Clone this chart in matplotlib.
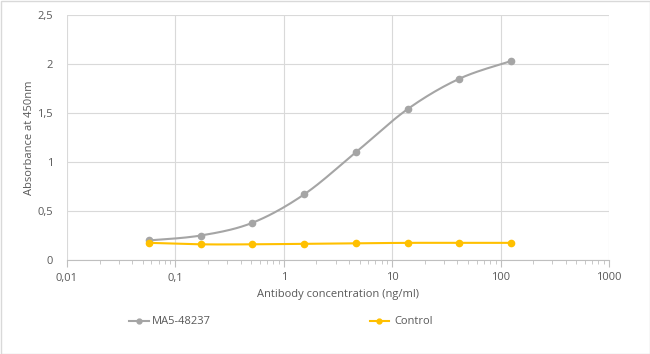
import numpy as np
import matplotlib
matplotlib.use("Agg")
import matplotlib.pyplot as plt
from matplotlib.ticker import FixedLocator, LogLocator, NullFormatter
from matplotlib.patches import Rectangle
from matplotlib.lines import Line2D

conc = [0.0572, 0.1715, 0.514, 1.543, 4.63, 13.89, 41.67, 125.0]
ma5 = [0.20, 0.25, 0.38, 0.67, 1.10, 1.54, 1.85, 2.03]
control = [0.175, 0.16, 0.16, 0.165, 0.17, 0.175, 0.175, 0.175]
xticks = [0.01, 0.1, 1, 10, 100, 1000]
xticklabels = ["0,01", "0,1", "1", "10", "100", "1000"]
yticks = [0, 0.5, 1, 1.5, 2, 2.5]
yticklabels = ["0", "0,5", "1", "1,5", "2", "2,5"]

plt.rcParams['font.family'] = ['Open Sans', 'DejaVu Sans']

def smooth(x, y, n=20):
    lx = np.log10(np.asarray(x, float)); y = np.asarray(y, float)
    P = np.column_stack([lx, y])
    P = np.vstack([P[0], P, P[-1]])
    out = []
    t = np.linspace(0, 1, n)
    for i in range(1, len(P) - 2):
        p0, p1, p2, p3 = P[i-1], P[i], P[i+1], P[i+2]
        for tt in t:
            t2, t3 = tt*tt, tt*tt*tt
            pt = 0.5*((2*p1) + (-p0+p2)*tt + (2*p0-5*p1+4*p2-p3)*t2 + (-p0+3*p1-3*p2+p3)*t3)
            out.append(pt)
    out = np.array(out)
    return 10**out[:, 0], out[:, 1]

fig = plt.figure(figsize=(6.5, 3.54), dpi=100)
ax = fig.add_axes([67/650, 1-260/354, (609-67)/650, (260-15)/354])
ax.set_xscale('log')
ax.set_xlim(0.01, 1000)
ax.set_ylim(0, 2.5)

gray = '#a5a5a5'
gold = '#ffc000'
sx, sy = smooth(conc, ma5)
ax.plot(sx, sy, color=gray, lw=1.5, zorder=3)
ax.plot(conc, ma5, 'o', color=gray, ms=4.5, zorder=4)
cx, cy = smooth(conc, control)
ax.plot(cx, cy, color=gold, lw=1.5, zorder=3)
ax.plot(conc, control, 'o', color=gold, ms=4.5, zorder=4)

ax.xaxis.set_major_locator(FixedLocator(xticks))
ax.set_xticklabels(xticklabels)
ax.xaxis.set_minor_locator(LogLocator(base=10, subs=np.arange(2, 10)))
ax.xaxis.set_minor_formatter(NullFormatter())
ax.set_yticks(yticks)
ax.set_yticklabels(yticklabels)

ax.grid(True, which='major', color='#d9d9d9', lw=0.8)
ax.set_axisbelow(True)
for s in ['top', 'right', 'left']:
    ax.spines[s].set_visible(False)
ax.spines['bottom'].set_color('#bfbfbf')
ax.tick_params(axis='x', which='major', length=5, color='#bfbfbf', direction='out', labelsize=8, labelcolor='#595959', pad=4)
ax.tick_params(axis='x', which='minor', length=3, color='#bfbfbf', direction='out')
ax.tick_params(axis='y', length=0, labelsize=8, labelcolor='#595959', pad=10)

ax.set_xlabel('Antibody concentration (ng/ml)', fontsize=8, color='#595959', labelpad=4)
ax.set_ylabel('Absorbance at 450nm', fontsize=8, color='#595959')
ax.yaxis.set_label_coords(-32/542, 0.5)

ly = 1-321/354
fig.text(152/650, ly, 'MA5-48237', fontsize=8, color='#595959', va='center')
fig.text(394/650, ly, 'Control', fontsize=8, color='#595959', va='center')
fig.lines.append(Line2D([129/650, 149/650], [ly]*2, color=gray, lw=1.5, transform=fig.transFigure))
fig.lines.append(Line2D([139/650], [ly], color=gray, marker='o', ms=3.5, transform=fig.transFigure))
fig.lines.append(Line2D([370/650, 389/650], [ly]*2, color=gold, lw=1.5, transform=fig.transFigure))
fig.lines.append(Line2D([379.5/650], [ly], color=gold, marker='o', ms=3.5, transform=fig.transFigure))

fig.patches.append(Rectangle((0.5/650, 0.5/354), 649/650, 353/354, transform=fig.transFigure,
                             fill=False, edgecolor='#d9d9d9', lw=1))

fig.savefig('out.png', dpi=100, facecolor='white')
